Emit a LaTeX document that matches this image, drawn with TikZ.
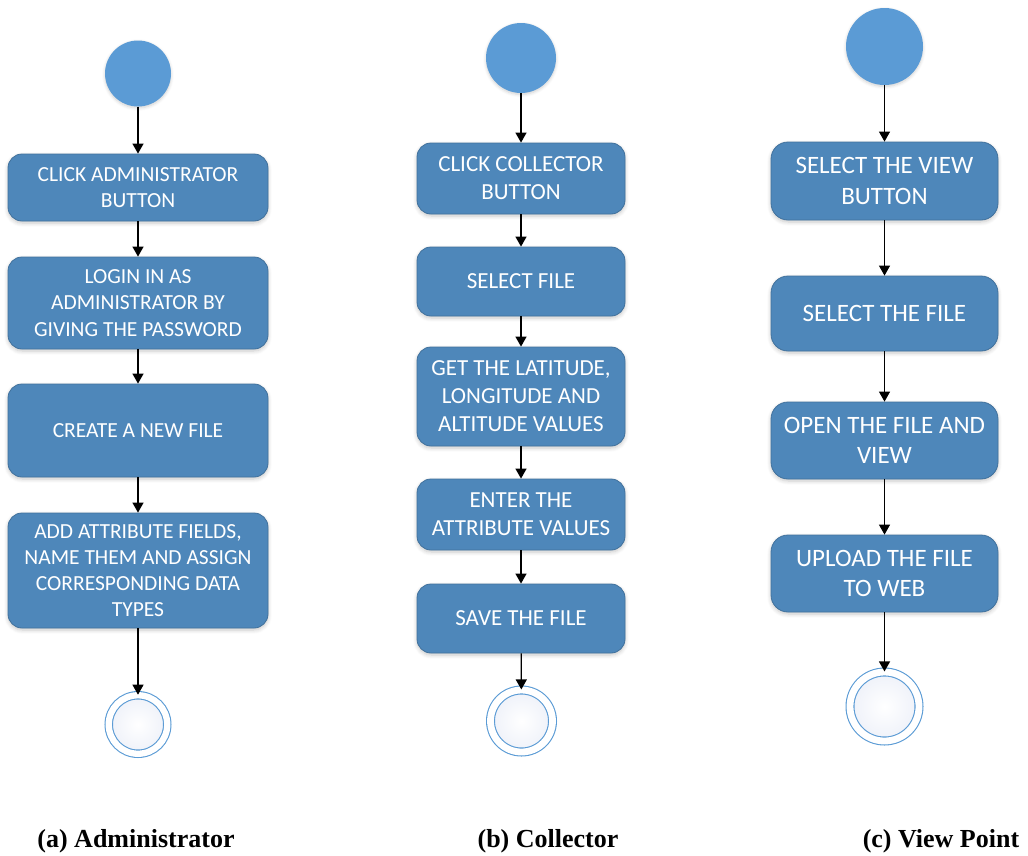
\documentclass[tikz,border=0pt]{standalone}
\usepackage{fontspec}
\setmainfont{Carlito}
\newfontfamily\capfont{Liberation Serif}
\usetikzlibrary{arrows.meta,shadows.blur}
\definecolor{boxblue}{RGB}{78,135,186}
\definecolor{boxedge}{RGB}{65,113,156}
\definecolor{startblue}{RGB}{91,155,213}
\definecolor{endfill}{RGB}{238,241,249}
\tikzset{
  actbox/.style={rectangle, rounded corners=14pt, fill=boxblue, draw=boxedge, line width=0.8pt,
    text=white, align=center, inner sep=0pt,
    blur shadow={shadow xshift=0pt, shadow yshift=-2pt, shadow blur steps=6, shadow blur radius=4pt, shadow opacity=22}},
  boxa/.style={actbox, minimum width=260pt, font=\fontsize{21.5}{26.2}\selectfont},
  boxb/.style={actbox, minimum width=208pt, font=\fontsize{23}{28}\selectfont},
  boxc/.style={actbox, minimum width=227pt, rounded corners=17pt, font=\fontsize{25}{30.5}\selectfont},
  startnode/.style={circle, fill=startblue, draw=none, inner sep=0pt,
    blur shadow={shadow xshift=0pt, shadow yshift=-1.5pt, shadow blur steps=6, shadow blur radius=3pt, shadow opacity=18}},
  endnode/.style={circle, shade, inner color=white, outer color=endfill, draw=startblue, line width=1.1pt, double=white, inner sep=0pt},
  arr/.style={draw=black, line width=1.2pt, -{Triangle[length=10pt,width=11pt]}},
  captext/.style={font=\capfont\bfseries\fontsize{26}{30}\selectfont, anchor=base}
}
\begin{document}
\begin{tikzpicture}[x=1pt,y=-1pt]
\useasboundingbox (0,0) rectangle (1028,855);
% ---------- column a ----------
\node[startnode, minimum size=66pt] (a0) at (138,73.5) {};
\node[boxa, minimum height=67pt] (a1) at (138,187.5) {CLICK ADMINISTRATOR\\BUTTON};
\node[boxa, minimum height=92pt] (a2) at (138,303) {LOGIN IN AS\\ADMINISTRATOR BY\\GIVING THE PASSWORD};
\node[boxa, minimum height=93pt] (a3) at (138,430.5) {CREATE A NEW FILE};
\node[boxa, minimum height=115pt] (a4) at (138,570.5) {ADD ATTRIBUTE FIELDS,\\NAME THEM AND ASSIGN\\CORRESPONDING DATA\\TYPES};
\node[endnode, minimum size=58.5pt, double distance=6.3pt] (a5) at (138,724.5) {};
\draw[arr] (a0) -- (a1);
\draw[arr] (a1) -- (a2);
\draw[arr] (a2) -- (a3);
\draw[arr] (a3) -- (a4);
\draw[arr] (a4) -- (a5);
% ---------- column b ----------
\node[startnode, minimum size=70pt] (b0) at (521,58) {};
\node[boxb, minimum height=71pt] (b1) at (521,178.5) {CLICK COLLECTOR\\BUTTON};
\node[boxb, minimum height=69pt] (b2) at (521,281.5) {SELECT FILE};
\node[boxb, minimum height=99pt] (b3) at (521,396.5) {GET THE LATITUDE,\\LONGITUDE AND\\ALTITUDE VALUES};
\node[boxb, minimum height=71pt] (b4) at (521,514.5) {ENTER THE\\ATTRIBUTE VALUES};
\node[boxb, minimum height=69pt] (b5) at (521,618.5) {SAVE THE FILE};
\node[endnode, minimum size=62pt, double distance=6.8pt] (b6) at (521.5,721) {};
\draw[arr] (b0) -- (b1);
\draw[arr] (b1) -- (b2);
\draw[arr] (b2) -- (b3);
\draw[arr] (b3) -- (b4);
\draw[arr] (b4) -- (b5);
\draw[arr] (b5) -- (b6);
% ---------- column c ----------
\node[startnode, minimum size=77pt] (c0) at (884.5,46.5) {};
\node[boxc, minimum height=78pt] (c1) at (884.5,181) {SELECT THE VIEW\\BUTTON};
\node[boxc, minimum height=75pt] (c2) at (884.5,313.5) {SELECT THE FILE};
\node[boxc, minimum height=77pt] (c3) at (884.5,440.5) {OPEN THE FILE AND\\VIEW};
\node[boxc, minimum height=77pt] (c4) at (884.5,573.5) {UPLOAD THE FILE\\TO WEB};
\node[endnode, minimum size=69pt, double distance=6.8pt] (c5) at (884.5,706.5) {};
\draw[arr] (c0) -- (c1);
\draw[arr] (c1) -- (c2);
\draw[arr] (c2) -- (c3);
\draw[arr] (c3) -- (c4);
\draw[arr] (c4) -- (c5);
% ---------- captions ----------
\node[captext] (capa) at (136,847) {(a) Administrator};
\node[captext] (capb) at (548,847) {(b) Collector};
\node[captext] (capc) at (941,847) {(c) View Point};
\end{tikzpicture}
\end{document}
